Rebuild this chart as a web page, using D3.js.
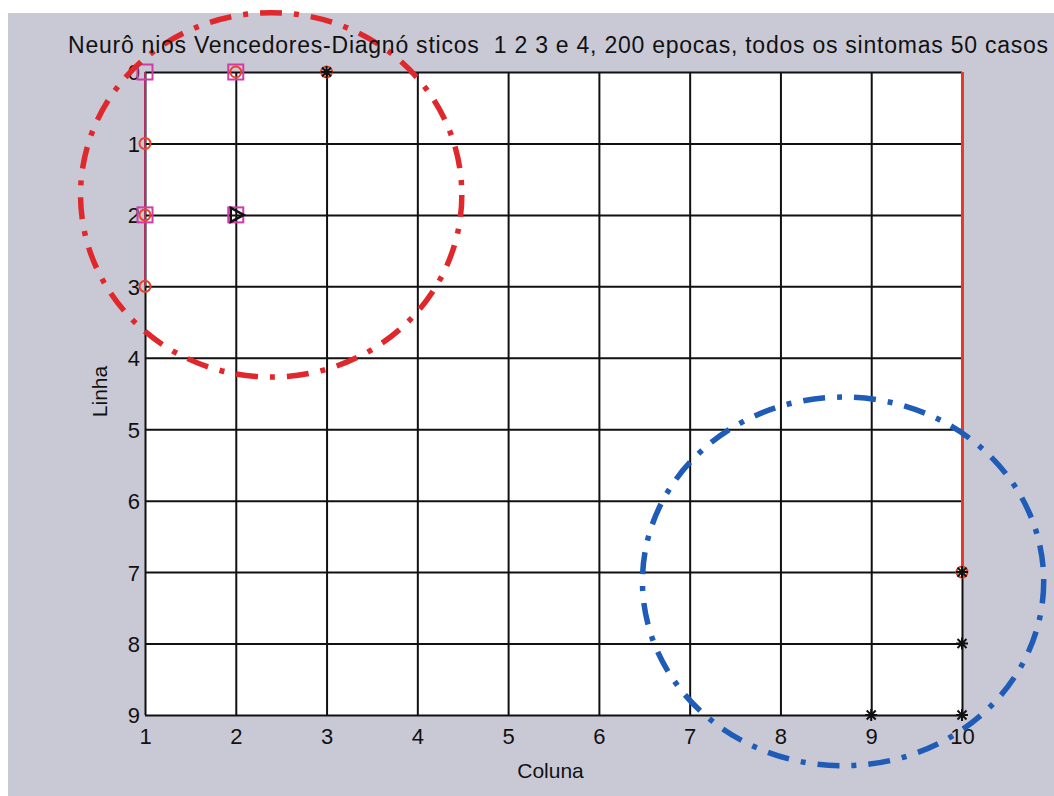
<!DOCTYPE html>
<html>
<head>
<meta charset="utf-8">
<script src="https://cdn.jsdelivr.net/npm/d3@7"></script>
<style>
  html, body { margin: 0; padding: 0; background: #ffffff; }
  svg { display: block; }
  text { font-family: "Liberation Sans", Arial, sans-serif; fill: #111; }
</style>
</head>
<body>
<svg id="chart" width="1054" height="796"></svg>
<script>
// Grid coordinates: columns 1..10, rows 0..9 (row 0 at the top)
const colTicks = [1, 2, 3, 4, 5, 6, 7, 8, 9, 10];
const rowTicks = [0, 1, 2, 3, 4, 5, 6, 7, 8, 9];

// Winning neurons per diagnosis, as [coluna, linha]
const squareNeurons   = [[1, 0], [2, 0], [1, 2], [2, 2]];
const circleNeurons   = [[2, 0], [3, 0], [1, 1], [1, 2], [1, 3], [10, 7]];
const asteriskNeurons = [[3, 0], [10, 7], [10, 8], [9, 9], [10, 9]];
const triangleNeurons = [[2, 2]];

// Coloured traces along the frame: [coluna, linha inicial, linha final]
const magentaTrace = [[1, 0, 3]];
const redTrace     = [[10, 0, 7]];

// Highlight groups (dash-dot ellipses): centre col/row, radius in cols/rows
const groupEllipses = [
  { name: "grupo1", cx: 2.39, cy: 1.72, rx: 2.1, ry: 2.55, color: "#e0282c" },
  { name: "grupo2", cx: 8.69, cy: 7.13, rx: 2.21, ry: 2.58, color: "#1f5cb8" }
];

const titleText = "Neurô nios Vencedores-Diagnó sticos  1 2 3 e 4, 200 epocas, todos os sintomas 50 casos";

const W = 1054, H = 796;
const plot = { left: 145, right: 962, top: 72, bottom: 715 };

const svg = d3.select("#chart");

// page background with the thin white margin on top/left
svg.append("rect").attr("x", 8).attr("y", 13).attr("width", W - 8).attr("height", H - 13)
  .attr("fill", "#c9c9d6");

const x = d3.scaleLinear().domain([1, 10]).range([plot.left, plot.right]);
const y = d3.scaleLinear().domain([0, 9]).range([plot.top, plot.bottom]);

// plot area
svg.append("rect")
  .attr("x", plot.left).attr("y", plot.top)
  .attr("width", plot.right - plot.left).attr("height", plot.bottom - plot.top)
  .attr("fill", "#ffffff");

// grid through the axes
const gx = svg.append("g")
  .attr("transform", `translate(0,${plot.bottom})`)
  .call(d3.axisBottom(x).tickValues(colTicks).tickFormat(d3.format("d"))
    .tickSizeInner(-(plot.bottom - plot.top)).tickSizeOuter(0).tickPadding(13));
const gy = svg.append("g")
  .attr("transform", `translate(${plot.left},0)`)
  .call(d3.axisLeft(y).tickValues(rowTicks).tickFormat(d3.format("d"))
    .tickSizeInner(-(plot.right - plot.left)).tickSizeOuter(0).tickPadding(5));

[gx, gy].forEach(g => {
  g.select(".domain").remove();
  g.selectAll(".tick line").attr("stroke", "#111").attr("stroke-width", 2);
  g.selectAll(".tick text").attr("font-size", 22).attr("fill", "#111")
    .style("font-family", "'Liberation Sans', Arial, sans-serif");
});
gx.selectAll(".tick text").attr("dy", "0.72em");
gy.selectAll(".tick text").attr("dy", "0.36em");

// coloured frame traces
svg.append("g").selectAll("line").data(magentaTrace).join("line")
  .attr("x1", d => x(d[0])).attr("x2", d => x(d[0]))
  .attr("y1", d => y(d[1])).attr("y2", d => y(d[2]))
  .attr("stroke", "#b0306a").attr("stroke-width", 2);
svg.append("g").selectAll("line").data(redTrace).join("line")
  .attr("x1", d => x(d[0])).attr("x2", d => x(d[0]))
  .attr("y1", d => y(d[1])).attr("y2", d => y(d[2]))
  .attr("stroke", "#e8372a").attr("stroke-width", 2);

// markers
const mk = svg.append("g");
mk.selectAll("rect.sq").data(squareNeurons).join("rect").attr("class", "sq")
  .attr("x", d => x(d[0]) - 7.5).attr("y", d => y(d[1]) - 7.5)
  .attr("width", 15).attr("height", 15)
  .attr("fill", "none").attr("stroke", "#d23aa8").attr("stroke-width", 2);
mk.selectAll("circle.ci").data(circleNeurons).join("circle").attr("class", "ci")
  .attr("cx", d => x(d[0])).attr("cy", d => y(d[1])).attr("r", 5.5)
  .attr("fill", "none").attr("stroke", "#e8442a").attr("stroke-width", 2);
mk.selectAll("path.tri").data(triangleNeurons).join("path").attr("class", "tri")
  .attr("transform", d => `translate(${x(d[0])},${y(d[1])})`)
  .attr("d", "M-5,-7 L8,0 L-5,7 Z")
  .attr("fill", "none").attr("stroke", "#111").attr("stroke-width", 2.5);
const star = "M-6,0 L6,0 M0,-6 L0,6 M-4.5,-4.5 L4.5,4.5 M-4.5,4.5 L4.5,-4.5";
mk.selectAll("path.ast").data(asteriskNeurons).join("path").attr("class", "ast")
  .attr("transform", d => `translate(${x(d[0])},${y(d[1])})`)
  .attr("d", star).attr("fill", "none").attr("stroke", "#111").attr("stroke-width", 2);

// highlight ellipses
svg.append("g").selectAll("ellipse").data(groupEllipses).join("ellipse")
  .attr("cx", d => x(d.cx)).attr("cy", d => y(d.cy))
  .attr("rx", d => x(d.cx + d.rx) - x(d.cx))
  .attr("ry", d => y(d.cy + d.ry) - y(d.cy))
  .attr("fill", "none").attr("stroke", d => d.color)
  .attr("stroke-width", 5.5).attr("stroke-dasharray", "22 12 5 12");

// title and axis labels
svg.append("text").attr("x", 68).attr("y", 53).attr("text-anchor", "start")
  .attr("font-size", 23).attr("xml:space", "preserve").style("white-space", "pre")
  .attr("textLength", 980).attr("lengthAdjust", "spacing")
  .text(titleText);
svg.append("text").attr("x", (plot.left + plot.right) / 2 - 3).attr("y", 778)
  .attr("text-anchor", "middle").attr("font-size", 21).text("Coluna");
svg.append("text").attr("transform", `translate(107,${(plot.top + plot.bottom) / 2 - 2}) rotate(-90)`)
  .attr("text-anchor", "middle").attr("font-size", 21).text("Linha");
</script>
</body>
</html>
